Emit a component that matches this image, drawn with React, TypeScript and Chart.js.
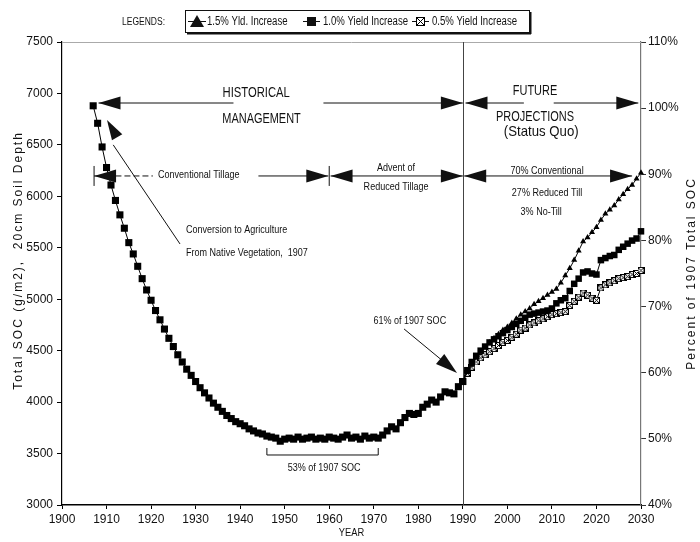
import React, { useEffect, useRef } from "react";
import { Chart, registerables } from "chart.js";

Chart.register(...registerables);

// ---------- data ----------
const histYears = [
  1907, 1908, 1909, 1910, 1911, 1912, 1913, 1914, 1915, 1916, 1917, 1918, 1919, 1920,
  1921, 1922, 1923, 1924, 1925, 1926, 1927, 1928, 1929, 1930, 1931, 1932, 1933, 1934,
  1935, 1936, 1937, 1938, 1939, 1940, 1941, 1942, 1943, 1944, 1945, 1946, 1947, 1948,
  1949, 1950, 1951, 1952, 1953, 1954, 1955, 1956, 1957, 1958, 1959, 1960, 1961, 1962,
  1963, 1964, 1965, 1966, 1967, 1968, 1969, 1970, 1971, 1972, 1973, 1974, 1975, 1976,
  1977, 1978, 1979, 1980, 1981, 1982, 1983, 1984, 1985, 1986, 1987, 1988, 1989, 1990,
];
const histSOC = [
  6880, 6710, 6480, 6280, 6110, 5960, 5820, 5690, 5550, 5440, 5320, 5200, 5090, 4990,
  4890, 4800, 4710, 4620, 4540, 4460, 4390, 4320, 4260, 4200, 4140, 4090, 4040, 3990,
  3950, 3910, 3870, 3840, 3810, 3790, 3770, 3740, 3720, 3700, 3690, 3670, 3660, 3650,
  3620, 3640, 3650, 3640, 3660, 3640, 3650, 3660, 3640, 3650, 3640, 3660, 3650, 3640,
  3660, 3680, 3650, 3660, 3640, 3670, 3650, 3660, 3650, 3680, 3720, 3760, 3740, 3800,
  3850, 3890, 3880, 3890, 3950, 3980, 4020, 4000, 4050, 4100, 4090, 4080, 4150, 4200,
];
const futYears = [
  1990, 1991, 1992, 1993, 1994, 1995, 1996, 1997, 1998, 1999, 2000, 2001, 2002, 2003,
  2004, 2005, 2006, 2007, 2008, 2009, 2010, 2011, 2012, 2013, 2014, 2015, 2016, 2017,
  2018, 2019, 2020, 2021, 2022, 2023, 2024, 2025, 2026, 2027, 2028, 2029, 2030,
];
const yield15 = [
  4200, 4290, 4360, 4430, 4490, 4530, 4580, 4620, 4660, 4700, 4730, 4770, 4810, 4850,
  4880, 4910, 4950, 4980, 5010, 5040, 5070, 5100, 5160, 5230, 5300, 5380, 5470, 5560,
  5600, 5650, 5700, 5770, 5830, 5870, 5910, 5970, 6020, 6070, 6110, 6170, 6230,
];
const yield10 = [
  4200, 4310, 4390, 4450, 4500, 4540, 4580, 4610, 4640, 4670, 4700, 4730, 4760, 4790,
  4820, 4850, 4860, 4870, 4880, 4890, 4910, 4960, 4990, 5010, 5080, 5150, 5200, 5260,
  5270, 5250, 5240, 5380, 5400, 5420, 5430, 5480, 5510, 5540, 5570, 5590, 5660,
];
const yield05 = [
  4200, 4280, 4340, 4390, 4430, 4460, 4490, 4520, 4550, 4580, 4600, 4630, 4660, 4700,
  4720, 4750, 4770, 4790, 4810, 4830, 4850, 4860, 4870, 4880, 4940, 4980, 5020, 5060,
  5040, 5010, 4990, 5110, 5140, 5160, 5180, 5200, 5210, 5220, 5240, 5250, 5280,
];
const seriesLabels = ["1.5% Yld. Increase", "1.0% Yield Increase", "0.5% Yield Increase"];
const yearRange = [1900, 2030];
const yearStep = 10;
const socRange = [3000, 7500];
const socStep = 500;
const pctRange = [40, 110];
const pctStep = 10;

// ---------- styles ----------
const SANS = "'Liberation Sans', Arial, sans-serif";
const INK = "#111";

function makeXBox(size: number) {
  const c = document.createElement("canvas");
  c.width = size;
  c.height = size;
  const g = c.getContext("2d")!;
  g.fillStyle = "#fff";
  g.fillRect(0, 0, size, size);
  g.strokeStyle = "#000";
  g.lineWidth = 1;
  g.strokeRect(0.5, 0.5, size - 1, size - 1);
  g.beginPath();
  g.moveTo(1, 1);
  g.lineTo(size - 1, size - 1);
  g.moveTo(size - 1, 1);
  g.lineTo(1, size - 1);
  g.stroke();
  return c;
}

function txt(
  ctx: CanvasRenderingContext2D,
  s: string,
  x: number,
  y: number,
  size: number,
  align: CanvasTextAlign = "center",
  sx = 0.82
) {
  ctx.save();
  ctx.translate(x, y);
  ctx.scale(sx, 1);
  ctx.font = `${size}px ${SANS}`;
  ctx.textAlign = align;
  ctx.textBaseline = "middle";
  ctx.fillStyle = INK;
  ctx.fillText(s, 0, 0);
  ctx.restore();
}

function head(
  ctx: CanvasRenderingContext2D,
  tipX: number,
  tipY: number,
  fromX: number,
  fromY: number,
  len = 22,
  half = 6.5
) {
  const a = Math.atan2(tipY - fromY, tipX - fromX);
  const bx = tipX - len * Math.cos(a);
  const by = tipY - len * Math.sin(a);
  ctx.beginPath();
  ctx.moveTo(tipX, tipY);
  ctx.lineTo(bx + half * Math.sin(a), by - half * Math.cos(a));
  ctx.lineTo(bx - half * Math.sin(a), by + half * Math.cos(a));
  ctx.closePath();
  ctx.fill();
}

function line(ctx: CanvasRenderingContext2D, x1: number, y1: number, x2: number, y2: number) {
  ctx.beginPath();
  ctx.moveTo(x1, y1);
  ctx.lineTo(x2, y2);
  ctx.stroke();
}

let xBoxLegend: HTMLCanvasElement;

const annotationPlugin = {
  id: "socAnnotations",
  beforeDatasetsDraw(chart: any) {
    const ctx: CanvasRenderingContext2D = chart.ctx;
    const xs = chart.scales.x;
    const { top, bottom, left, right } = chart.chartArea;
    ctx.save();
    ctx.strokeStyle = "#aaa";
    ctx.lineWidth = 1;
    line(ctx, left, top + 0.5, right, top + 0.5);
    ctx.strokeStyle = "#444";
    const x90 = Math.round(xs.getPixelForValue(1990)) + 0.5;
    line(ctx, x90, top, x90, bottom);
    ctx.restore();
  },
  afterDatasetsDraw(chart: any) {
    const ctx: CanvasRenderingContext2D = chart.ctx;
    const xs = chart.scales.x;
    const ys = chart.scales.y;
    const X = (v: number) => xs.getPixelForValue(v);
    const Y = (v: number) => ys.getPixelForValue(v);
    ctx.save();
    ctx.fillStyle = INK;
    ctx.strokeStyle = INK;
    ctx.lineWidth = 1;

    // ---- top row: HISTORICAL MANAGEMENT / FUTURE PROJECTIONS ----
    const yTop = Y(6907);
    line(ctx, X(1908.2), yTop, X(1938.5), yTop);
    head(ctx, X(1908.2), yTop, X(1920), yTop);
    line(ctx, X(1958.7), yTop, X(1990), yTop);
    head(ctx, X(1990), yTop, X(1970), yTop);
    line(ctx, X(1990.6), yTop, X(2003.7), yTop);
    head(ctx, X(1990.6), yTop, X(2000), yTop);
    line(ctx, X(2010.4), yTop, X(2029.4), yTop);
    head(ctx, X(2029.4), yTop, X(2015), yTop);
    txt(ctx, "HISTORICAL", X(1943.6), Y(7004), 15, "center", 0.75);
    txt(ctx, "MANAGEMENT", X(1944.8), Y(6751), 15, "center", 0.73);
    txt(ctx, "FUTURE", X(2006.2), Y(7024), 15, "center", 0.73);
    txt(ctx, "PROJECTIONS", X(2006.2), Y(6776), 15, "center", 0.73);
    txt(ctx, "(Status Quo)", X(2007.6), Y(6630), 15, "center", 0.88);

    // ---- tillage row ----
    const yT = Y(6198);
    const barTop = Y(6295);
    const barBot = Y(6101);
    line(ctx, X(1907.2), barTop, X(1907.2), barBot);
    line(ctx, X(1960), barTop, X(1960), barBot);
    line(ctx, X(1907.2), yT, X(1912), yT);
    ctx.setLineDash([6, 3]);
    line(ctx, X(1912), yT, X(1920.4), yT);
    ctx.setLineDash([]);
    head(ctx, X(1907.2), yT, X(1915), yT);
    txt(ctx, "Conventional Tillage", X(1930.7), Y(6207), 11);
    line(ctx, X(1944.1), yT, X(1959.8), yT);
    head(ctx, X(1959.8), yT, X(1950), yT);
    line(ctx, X(1960.3), yT, X(1990), yT);
    head(ctx, X(1960.3), yT, X(1970), yT);
    head(ctx, X(1990), yT, X(1980), yT);
    txt(ctx, "Advent of", X(1975), Y(6275), 11);
    txt(ctx, "Reduced Tillage", X(1975), Y(6091), 11);
    line(ctx, X(1990.3), yT, X(2028), yT);
    head(ctx, X(1990.3), yT, X(2000), yT);
    head(ctx, X(2028), yT, X(2015), yT);
    txt(ctx, "70% Conventional", X(2008.9), Y(6251), 11);
    txt(ctx, "27% Reduced Till", X(2008.9), Y(6032), 11);
    txt(ctx, "3% No-Till", X(2007.6), Y(5848), 11);

    // ---- conversion note ----
    txt(ctx, "Conversion to Agriculture", X(1927.85), Y(5673), 11, "left");
    txt(ctx, "From Native Vegetation,  1907", X(1927.85), Y(5449), 11, "left");
    line(ctx, X(1926.5), Y(5537), X(1911.5), Y(6500));
    head(ctx, X(1910.1), Y(6742), X(1926.5), Y(5537), 20, 6);

    // ---- 61% note ----
    txt(ctx, "61% of 1907 SOC", X(1986.25), Y(4788), 11, "right");
    line(ctx, X(1976.8), Y(4711), X(1985.5), Y(4400));
    head(ctx, X(1988.7), Y(4283), X(1976.8), Y(4711), 22, 6.5);

    // ---- 53% bracket ----
    const yb = Y(3486);
    const ybt = Y(3554);
    line(ctx, X(1946), yb, X(1971), yb);
    line(ctx, X(1946), yb, X(1946), ybt);
    line(ctx, X(1971), yb, X(1971), ybt);
    txt(ctx, "53% of 1907 SOC", X(1958.85), Y(3360), 11);
    ctx.restore();
  },
  afterDraw(chart: any) {
    const ctx: CanvasRenderingContext2D = chart.ctx;
    const { top, bottom, left, right } = chart.chartArea;
    ctx.save();
    ctx.fillStyle = INK;
    ctx.strokeStyle = INK;
    const cy = (top + bottom) / 2;
    ctx.font = `12px ${SANS}`;
    (ctx as any).letterSpacing = "2px";
    ctx.textAlign = "center";
    ctx.textBaseline = "middle";
    ctx.save();
    ctx.translate(19, cy - 13);
    ctx.rotate(-Math.PI / 2);
    ctx.fillText("Total SOC (g/m2),  20cm Soil Depth", 0, 0);
    ctx.restore();
    ctx.save();
    ctx.translate(692, cy);
    ctx.rotate(-Math.PI / 2);
    ctx.fillText("Percent of 1907 Total SOC", 0, 0);
    ctx.restore();
    (ctx as any).letterSpacing = "0px";
    txt(ctx, "YEAR", (left + right) / 2, 533, 11, "center", 0.85);

    // legend
    txt(ctx, "LEGENDS:", 165, 22, 10, "right", 0.85);
    ctx.lineWidth = 1;
    ctx.strokeRect(185.5, 10.5, 344, 22);
    ctx.lineWidth = 2;
    line(ctx, 187, 33.5, 531, 33.5);
    line(ctx, 530.5, 12, 530.5, 34);
    ctx.lineWidth = 1;
    const ly = 21.5;
    line(ctx, 188, ly, 206, ly);
    ctx.beginPath();
    ctx.moveTo(190, 27);
    ctx.lineTo(204, 27);
    ctx.lineTo(197, 15);
    ctx.closePath();
    ctx.fill();
    txt(ctx, seriesLabels[0], 207, ly, 12, "left", 0.8);
    line(ctx, 303, ly, 320, ly);
    ctx.fillRect(307, ly - 4.5, 9, 9);
    txt(ctx, seriesLabels[1], 323, ly, 12, "left", 0.8);
    line(ctx, 412, ly, 429, ly);
    ctx.drawImage(xBoxLegend, 416, ly - 4.5);
    txt(ctx, seriesLabels[2], 432, ly, 12, "left", 0.8);
    ctx.restore();
  },
};

export default function App() {
  const ref = useRef<HTMLCanvasElement>(null);
  useEffect(() => {
    document.body.style.margin = "0";
    xBoxLegend = makeXBox(9);
    const xBox = makeXBox(7);
    const hist = histYears.map((yr, i) => ({ x: yr, y: histSOC[i] }));
    const s15 = futYears.map((yr, i) => ({ x: yr, y: yield15[i] }));
    const s10 = futYears.map((yr, i) => ({ x: yr, y: yield10[i] }));
    const s05 = futYears.map((yr, i) => ({ x: yr, y: yield05[i] }));
    const tickFont = { family: SANS, size: 12 };
    const chart = new Chart(ref.current!, {
      type: "line",
      data: {
        datasets: [
          {
            label: "Historical",
            data: hist,
            borderColor: "#000",
            backgroundColor: "#000",
            borderWidth: 1,
            pointStyle: "rect",
            pointRadius: 5,
            pointBorderWidth: 0,
            clip: false,
          },
          {
            label: seriesLabels[0],
            data: s15,
            borderColor: "#000",
            backgroundColor: "#000",
            borderWidth: 1,
            pointStyle: "triangle",
            pointRadius: 3.5,
            pointBorderWidth: 0,
            clip: false,
          },
          {
            label: seriesLabels[1],
            data: s10,
            borderColor: "#000",
            backgroundColor: "#000",
            borderWidth: 1,
            pointStyle: "rect",
            pointRadius: 4.6,
            pointBorderWidth: 0,
            clip: false,
          },
          {
            label: seriesLabels[2],
            data: s05,
            borderColor: "#000",
            backgroundColor: "#fff",
            borderWidth: 1,
            pointStyle: xBox as any,
            pointRadius: 3.5,
            clip: false,
          },
        ] as any,
      },
      options: {
        responsive: false,
        animation: false,
        events: [],
        layout: { padding: { top: 42, left: 0, right: 0, bottom: 0 } },
        plugins: { legend: { display: false }, tooltip: { enabled: false }, title: { display: false } },
        elements: { line: { tension: 0 } },
        scales: {
          x: {
            type: "linear",
            min: yearRange[0],
            max: yearRange[1],
            afterFit: (s: any) => {
              s.height = 37;
            },
            ticks: {
              stepSize: yearStep,
              color: INK,
              font: tickFont,
              padding: 3,
              maxRotation: 0,
              callback: (v: any) => String(v),
            },
            grid: { drawOnChartArea: false, tickLength: 4, color: "#000" },
            border: { color: "#000", width: 1.5 },
          },
          y: {
            position: "left",
            min: socRange[0],
            max: socRange[1],
            afterFit: (s: any) => {
              s.width = 62;
            },
            ticks: {
              stepSize: socStep,
              color: INK,
              font: tickFont,
              padding: 4,
              callback: (v: any) => String(v),
            },
            grid: { drawOnChartArea: false, tickLength: 5, color: "#000" },
            border: { color: "#000", width: 1.2 },
          },
          y2: {
            position: "right",
            display: true,
            min: pctRange[0],
            max: pctRange[1],
            afterFit: (s: any) => {
              s.width = 59;
            },
            ticks: {
              stepSize: pctStep,
              color: INK,
              font: tickFont,
              padding: 2,
              callback: (v: any) => `${v}%`,
            },
            grid: { drawOnChartArea: false, tickLength: 5, color: "#333" },
            border: { color: "#777", width: 1.2 },
          },
        },
      } as any,
      plugins: [annotationPlugin],
    });
    return () => chart.destroy();
  }, []);
  return <canvas ref={ref} width={700} height={542} style={{ display: "block" }} />;
}
